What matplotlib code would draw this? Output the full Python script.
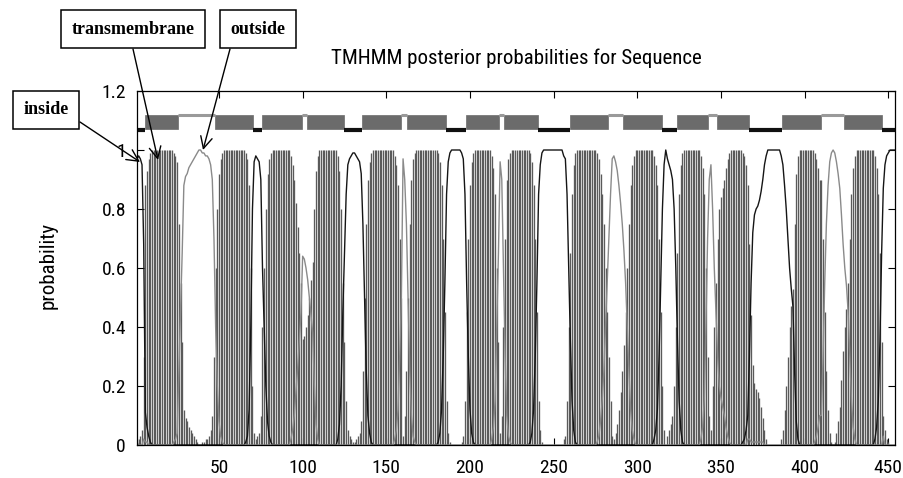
import matplotlib
matplotlib.use('Agg')
import numpy as np
import matplotlib.pyplot as plt
from matplotlib import font_manager
from matplotlib.patches import Rectangle


# Posterior probabilities per residue (residue 1 .. 454)
tm_prob = [
    0.02, 0.02, 0.03, 0.05, 0.30, 0.88, 0.93, 0.97, 0.99, 1.00,   # 1
    1.00, 1.00, 1.00, 1.00, 1.00, 1.00, 1.00, 1.00, 1.00, 1.00,   # 11
    1.00, 1.00, 0.99, 0.98, 0.96, 0.75, 0.55, 0.35, 0.12, 0.09,   # 21
    0.08, 0.06, 0.05, 0.04, 0.03, 0.02, 0.01, 0.00, 0.00, 0.01,   # 31
    0.01, 0.02, 0.02, 0.03, 0.05, 0.10, 0.30, 0.60, 0.80, 0.92,   # 41
    0.97, 0.99, 1.00, 1.00, 1.00, 1.00, 1.00, 1.00, 1.00, 1.00,   # 51
    1.00, 1.00, 1.00, 1.00, 1.00, 0.99, 0.97, 0.88, 0.60, 0.20,   # 61
    0.04, 0.02, 0.03, 0.04, 0.10, 0.40, 0.60, 0.80, 0.92, 0.97,   # 71
    0.99, 1.00, 1.00, 1.00, 1.00, 1.00, 1.00, 1.00, 1.00, 1.00,   # 81
    1.00, 1.00, 0.98, 0.95, 0.90, 0.82, 0.74, 0.65, 0.55, 0.36,   # 91
    0.37, 0.40, 0.44, 0.50, 0.56, 0.62, 0.80, 0.93, 0.98, 1.00,   # 101
    1.00, 1.00, 1.00, 1.00, 1.00, 1.00, 1.00, 1.00, 1.00, 1.00,   # 111
    0.98, 0.93, 0.80, 0.55, 0.35, 0.15, 0.05, 0.03, 0.02, 0.01,   # 121
    0.01, 0.02, 0.03, 0.04, 0.08, 0.25, 0.50, 0.75, 0.90, 0.96,   # 131
    0.99, 1.00, 1.00, 1.00, 1.00, 1.00, 1.00, 1.00, 1.00, 1.00,   # 141
    1.00, 1.00, 1.00, 1.00, 0.98, 0.95, 0.88, 0.70, 0.50, 0.03,   # 151
    0.10, 0.25, 0.50, 0.75, 0.90, 0.97, 0.99, 1.00, 1.00, 1.00,   # 161
    1.00, 1.00, 1.00, 1.00, 1.00, 1.00, 1.00, 1.00, 1.00, 1.00,   # 171
    0.99, 0.96, 0.88, 0.70, 0.45, 0.15, 0.04, 0.01, 0.00, 0.00,   # 181
    0.00, 0.00, 0.00, 0.00, 0.01, 0.03, 0.15, 0.45, 0.70, 0.88,   # 191
    0.96, 0.99, 1.00, 1.00, 1.00, 1.00, 1.00, 1.00, 1.00, 1.00,   # 201
    1.00, 1.00, 0.98, 0.94, 0.85, 0.60, 0.35, 0.04, 0.10, 0.40,   # 211
    0.70, 0.90, 0.97, 0.99, 1.00, 1.00, 1.00, 1.00, 1.00, 1.00,   # 221
    1.00, 1.00, 1.00, 1.00, 1.00, 0.99, 0.96, 0.88, 0.70, 0.45,   # 231
    0.15, 0.05, 0.01, 0.00, 0.00, 0.00, 0.00, 0.00, 0.00, 0.00,   # 241
    0.00, 0.00, 0.00, 0.00, 0.00, 0.02, 0.03, 0.15, 0.40, 0.65,   # 251
    0.85, 0.95, 0.99, 1.00, 1.00, 1.00, 1.00, 1.00, 1.00, 1.00,   # 261
    1.00, 1.00, 1.00, 1.00, 1.00, 0.99, 0.97, 0.92, 0.85, 0.75,   # 271
    0.60, 0.45, 0.30, 0.15, 0.03, 0.02, 0.04, 0.07, 0.12, 0.18,   # 281
    0.25, 0.34, 0.45, 0.60, 0.75, 0.88, 0.95, 0.98, 1.00, 1.00,   # 291
    1.00, 1.00, 1.00, 1.00, 1.00, 1.00, 1.00, 1.00, 1.00, 0.98,   # 301
    0.95, 0.88, 0.70, 0.45, 0.20, 0.05, 0.00, 0.03, 0.05, 0.07,   # 311
    0.10, 0.20, 0.40, 0.65, 0.85, 0.95, 0.99, 1.00, 1.00, 1.00,   # 321
    1.00, 1.00, 1.00, 1.00, 1.00, 1.00, 1.00, 0.98, 0.94, 0.85,   # 331
    0.60, 0.30, 0.10, 0.05, 0.20, 0.40, 0.55, 0.70, 0.80, 0.84,   # 341
    0.87, 0.90, 0.94, 0.97, 0.99, 1.00, 1.00, 1.00, 1.00, 1.00,   # 351
    1.00, 1.00, 0.99, 0.98, 0.95, 0.88, 0.68, 0.44, 0.27, 0.21,   # 361
    0.19, 0.18, 0.16, 0.13, 0.09, 0.05, 0.02, 0.00, 0.00, 0.00,   # 371
    0.00, 0.00, 0.00, 0.00, 0.00, 0.02, 0.05, 0.12, 0.20, 0.30,   # 381
    0.40, 0.47, 0.53, 0.75, 0.92, 0.98, 1.00, 1.00, 1.00, 1.00,   # 391
    1.00, 1.00, 1.00, 1.00, 1.00, 0.99, 0.97, 0.94, 0.90, 0.90,   # 401
    0.70, 0.45, 0.25, 0.12, 0.04, 0.01, 0.00, 0.01, 0.04, 0.08,   # 411
    0.13, 0.22, 0.32, 0.40, 0.46, 0.55, 0.70, 0.85, 0.94, 0.98,   # 421
    1.00, 1.00, 1.00, 1.00, 1.00, 1.00, 1.00, 1.00, 1.00, 1.00,   # 431
    1.00, 0.98, 0.94, 0.85, 0.65, 0.35, 0.10, 0.05, 0.02, 0.01,   # 441
    0.00, 0.00, 0.00, 0.00,                                       # 451
]

inside_prob = [
    0.97, 0.98, 0.97, 0.95, 0.68, 0.11, 0.06, 0.03, 0.01, 0.00,   # 1
    0, 0, 0, 0, 0, 0, 0, 0, 0, 0,                                 # 11
    0, 0, 0, 0, 0, 0, 0, 0, 0, 0,                                 # 21
    0, 0, 0, 0, 0, 0, 0, 0, 0, 0,                                 # 31
    0, 0, 0, 0, 0, 0, 0, 0, 0, 0,                                 # 41
    0, 0, 0, 0, 0, 0, 0, 0, 0, 0,                                 # 51
    0, 0, 0, 0, 0, 0.01, 0.03, 0.12, 0.40, 0.80,                  # 61
    0.96, 0.98, 0.97, 0.96, 0.90, 0.60, 0.40, 0.20, 0.08, 0.03,   # 71
    0.01, 0, 0, 0, 0, 0, 0, 0, 0, 0,                              # 81
    0, 0, 0, 0, 0, 0, 0, 0, 0, 0,                                 # 91
    0, 0, 0, 0, 0, 0, 0, 0, 0, 0,                                 # 101
    0, 0, 0, 0, 0, 0, 0, 0, 0, 0,                                 # 111
    0.02, 0.07, 0.20, 0.45, 0.65, 0.85, 0.95, 0.97, 0.98, 0.99,   # 121
    0.99, 0.98, 0.97, 0.96, 0.92, 0.75, 0.50, 0.25, 0.10, 0.04,   # 131
    0.01, 0, 0, 0, 0, 0, 0, 0, 0, 0,                              # 141
    0, 0, 0, 0, 0, 0, 0, 0, 0, 0,                                 # 151
    0, 0, 0, 0, 0, 0, 0, 0, 0, 0,                                 # 161
    0, 0, 0, 0, 0, 0, 0, 0, 0, 0,                                 # 171
    0.01, 0.04, 0.12, 0.30, 0.55, 0.85, 0.96, 0.99, 1.00, 1.00,   # 181
    1.00, 1.00, 1.00, 1.00, 0.99, 0.97, 0.85, 0.55, 0.30, 0.12,   # 191
    0.04, 0.01, 0, 0, 0, 0, 0, 0, 0, 0,                           # 201
    0, 0, 0, 0, 0, 0, 0, 0, 0, 0,                                 # 211
    0, 0, 0, 0, 0, 0, 0, 0, 0, 0,                                 # 221
    0, 0, 0, 0, 0, 0.01, 0.04, 0.12, 0.30, 0.55,                  # 231
    0.85, 0.95, 0.99, 1.00, 1.00, 1.00, 1.00, 1.00, 1.00, 1.00,   # 241
    1.00, 1.00, 1.00, 1.00, 1.00, 0.98, 0.97, 0.85, 0.60, 0.35,   # 251
    0.15, 0.05, 0.01, 0, 0, 0, 0, 0, 0, 0,                        # 261
    0, 0, 0, 0, 0, 0, 0, 0, 0, 0,                                 # 271
    0, 0, 0, 0, 0, 0, 0, 0, 0, 0,                                 # 281
    0, 0, 0, 0, 0, 0, 0, 0, 0, 0,                                 # 291
    0, 0, 0, 0, 0, 0, 0, 0, 0, 0.02,                              # 301
    0.05, 0.12, 0.30, 0.55, 0.80, 0.95, 1.00, 0.97, 0.95, 0.93,   # 311
    0.90, 0.80, 0.60, 0.35, 0.15, 0.05, 0.01, 0, 0, 0,            # 321
    0, 0, 0, 0, 0, 0, 0, 0, 0, 0,                                 # 331
    0, 0, 0, 0, 0, 0, 0, 0, 0, 0,                                 # 341
    0, 0, 0, 0, 0, 0, 0, 0, 0, 0,                                 # 351
    0, 0, 0.01, 0.02, 0.05, 0.10, 0.30, 0.55, 0.72, 0.78,         # 361
    0.80, 0.81, 0.83, 0.86, 0.90, 0.95, 0.98, 1.00, 1.00, 1.00,   # 371
    1.00, 1.00, 1.00, 1.00, 1.00, 0.98, 0.95, 0.88, 0.80, 0.70,   # 381
    0.60, 0.53, 0.47, 0.25, 0.08, 0.02, 0, 0, 0, 0,               # 391
    0, 0, 0, 0, 0, 0, 0, 0, 0, 0,                                 # 401
    0, 0, 0, 0, 0, 0, 0, 0, 0, 0,                                 # 411
    0, 0, 0, 0, 0, 0, 0, 0, 0, 0,                                 # 421
    0, 0, 0, 0, 0, 0, 0, 0, 0, 0,                                 # 431
    0, 0.02, 0.06, 0.15, 0.35, 0.65, 0.87, 0.95, 0.98, 0.99,      # 441
    1.00, 1.00, 1.00, 1.00,                                       # 451
]

# predicted topology drawn above the curves: (first residue, last residue, kind)
topology = [
    (1, 5, 'inside'), (6, 25, 'TM'), (26, 47, 'outside'), (48, 70, 'TM'),
    (71, 75, 'inside'), (76, 99, 'TM'), (100, 102, 'outside'), (103, 124, 'TM'),
    (125, 135, 'inside'), (136, 158, 'TM'), (159, 162, 'outside'), (163, 185, 'TM'),
    (186, 197, 'inside'), (198, 217, 'TM'), (218, 220, 'outside'), (221, 240, 'TM'),
    (241, 259, 'inside'), (260, 282, 'TM'), (283, 291, 'outside'), (292, 314, 'TM'),
    (315, 323, 'inside'), (324, 342, 'TM'), (343, 347, 'outside'), (348, 366, 'TM'),
    (367, 386, 'inside'), (387, 409, 'TM'), (410, 423, 'outside'), (424, 446, 'TM'),
    (447, 454, 'inside'),
]

x_ticks = [50, 100, 150, 200, 250, 300, 350, 400, 450]
y_ticks = [0, 0.2, 0.4, 0.6, 0.8, 1.0, 1.2]
y_tick_labels = ['0', '0.2', '0.4', '0.6', '0.8', '1', '1.2']

# (label, box centre, arrow start, arrow tip) in figure pixels
callouts = [
    ('inside', (46, 368), (80, 356), (140, 316)),
    ('transmembrane', (133, 449), (133, 429), (158, 318)),
    ('outside', (258, 449), (230, 429), (203, 328)),
]

assert len(tm_prob) == len(inside_prob) == 454


def pick_narrow_font():
    """Use a narrow sans face if one is installed, else plain Liberation Sans"""
    fonts = font_manager.fontManager.ttflist
    for f in fonts:
        if f.name == 'Liberation Sans Narrow':
            return {'family': 'Liberation Sans Narrow'}
    for name in ('Roboto Condensed', 'Open Sans Condensed'):
        if any(f.name == name for f in fonts):
            return {'family': name}
    for f in fonts:
        if f.name == 'DejaVu Sans' and 'condensed' in str(f.stretch):
            return {'family': 'DejaVu Sans', 'stretch': 'condensed'}
    return {'family': 'Liberation Sans'}


SANS = pick_narrow_font()
SERIF = 'Liberation Serif'

tm = np.array(tm_prob)
inside = np.array(inside_prob)
outside = np.clip(1.0 - tm - inside, 0.0, 1.0)
res = np.arange(1, len(tm) + 1)

W, H = 904, 478
fig = plt.figure(figsize=(W / 100, H / 100), dpi=100)
ax = fig.add_axes([137 / W, 1 - 445 / H, 758 / W, 354 / H])

# transmembrane probability as impulses, then inside / outside lines on top
ax.vlines(res, 0, tm, colors='#5a5a5a', linewidth=0.95, antialiased=True)
ax.plot(res, inside, color='#151515', lw=1.0)
ax.plot(res, outside, color='#8a8a8a', lw=1.0)

# topology strip
for start, end, kind in topology:
    if kind == 'TM':
        ax.add_patch(Rectangle((start - 0.5, 1.07), end - start + 1, 0.05,
                               facecolor='#6b6b6b', edgecolor='#6b6b6b', lw=0.5))
    elif kind == 'inside':
        ax.hlines(1.069, start - 0.5, end + 0.5, colors='#111111', lw=3.0)
    else:
        ax.hlines(1.118, start - 0.5, end + 0.5, colors='#9a9a9a', lw=2.2)

ax.set_xlim(1, len(tm))
ax.set_ylim(0, 1.2)
ax.set_xticks(x_ticks)
ax.set_yticks(y_ticks)
ax.set_yticklabels(y_tick_labels)
ax.tick_params(direction='in', top=True, right=True, length=5, width=0.8,
               labelsize=14)
ax.tick_params(axis='x', pad=10)
ax.tick_params(axis='y', pad=8)
for lab in ax.get_xticklabels() + ax.get_yticklabels():
    lab.set_fontfamily(SANS['family'])
    if 'stretch' in SANS:
        lab.set_fontstretch(SANS['stretch'])
for sp in ax.spines.values():
    sp.set_linewidth(0.9)

fig.text(516 / W, 1 - 58 / H, 'TMHMM posterior probabilities for Sequence',
         ha='center', va='center', fontsize=15, **SANS)
fig.text(48 / W, 1 - 265 / H, 'probability', rotation=90,
         ha='center', va='center', fontsize=15, **SANS)

for label, centre, start, tip in callouts:
    fig.text(centre[0] / W, centre[1] / H, label, ha='center', va='center',
             fontsize=13, family=SERIF, fontweight='bold',
             bbox=dict(boxstyle='square,pad=0.6', fc='white', ec='black', lw=1.1))
    ax.annotate('', xy=tip, xycoords='figure pixels',
                xytext=start, textcoords='figure pixels',
                arrowprops=dict(arrowstyle='->,head_length=0.6,head_width=0.3',
                                color='black', lw=1.0, shrinkA=0, shrinkB=0,
                                mutation_scale=14),
                annotation_clip=False)

fig.savefig('out.png', dpi=100)
